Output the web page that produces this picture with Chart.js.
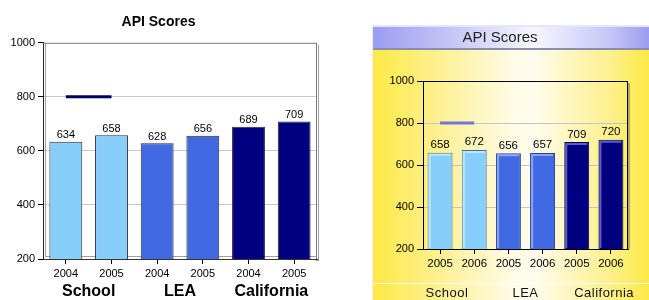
<!DOCTYPE html>
<html><head><meta charset="utf-8">
<script src="https://cdn.jsdelivr.net/npm/chart.js@4.4.0/dist/chart.umd.min.js"></script>
<style>
html,body{margin:0;padding:0;background:#fff;overflow:hidden;width:649px;height:300px}
#c1{position:absolute;left:0;top:0}
#panel{position:absolute;left:372px;top:25px;width:277px;height:275px;
 background:linear-gradient(to right,#fde945 0%,#fdf08c 22%,#fffbe4 50%,#fffcee 58%,#fdf08c 86%,#fde945 100%);
 border-left:1px solid #ececfa;box-sizing:border-box}
#tbar{position:absolute;left:0;top:0;width:100%;height:25px;box-sizing:border-box;
 border-top:2px solid #e6e6fa;border-bottom:2px solid #8c8cae;
 background:linear-gradient(to right,#9c9cf0 0%,#c8c8f8 30%,#f6f6ff 58%,#c8c8f8 85%,#9c9cf0 100%)}
#sep{position:absolute;left:0;top:258px;width:100%;height:1px;background:rgba(255,255,255,0.85)}
#c2{position:absolute;left:372px;top:25px}
</style></head>
<body>
<canvas id="c1" width="330" height="300"></canvas>
<div id="panel"><div id="tbar"></div><div id="sep"></div></div>
<canvas id="c2" width="277" height="275"></canvas>
<script>
// ---------- data ----------
const groups = ['School', 'LEA', 'California'];
const leftYears = ['2004', '2005', '2004', '2005', '2004', '2005'];
const leftScores = [634, 658, 628, 656, 689, 709];
const leftTarget = [800, 800, null, null, null, null];
const rightYears = ['2005', '2006', '2005', '2006', '2005', '2006'];
const rightScores = [658, 672, 656, 657, 709, 720];
const rightTarget = [800, 800, null, null, null, null];
const yTicks = [200, 400, 600, 800, 1000];

// ---------- styles ----------
const groupFill = ['#87cefa', '#4169e1', '#000080'];
const groupEdge = ['#3f6f8f', '#27408f', '#000040'];
const groupHi = ['#bfe6ff', '#8aa4f2', '#5c5cc8'];
const F = 'Liberation Sans, Arial, sans-serif';

const valueLabels = {
  id: 'valueLabels',
  afterDatasetsDraw(chart, args, opts) {
    const ctx = chart.ctx;
    const ds = chart.data.datasets.findIndex(d => d.type === 'bar');
    const meta = chart.getDatasetMeta(ds);
    ctx.save();
    ctx.font = opts.font;
    ctx.fillStyle = '#000';
    ctx.textAlign = 'center';
    ctx.textBaseline = 'bottom';
    meta.data.forEach((el, i) => {
      ctx.fillText(String(chart.data.datasets[ds].data[i]), el.x, el.y - opts.gap);
    });
    ctx.restore();
  }
};

const groupLabels = {
  id: 'groupLabels',
  afterDraw(chart, args, opts) {
    const ctx = chart.ctx, xs = chart.scales.x;
    const mid = (chart.chartArea.left + chart.chartArea.right) / 2;
    ctx.save();
    ctx.font = opts.font;
    ctx.fillStyle = opts.color;
    ctx.textAlign = 'center';
    ctx.textBaseline = 'middle';
    if (opts.spacing) ctx.letterSpacing = opts.spacing;
    groups.forEach((g, i) => {
      const c = (xs.getPixelForValue(2 * i) + xs.getPixelForValue(2 * i + 1)) / 2;
      ctx.fillText(g, mid + (c - mid) * opts.spread, opts.y);
    });
    ctx.restore();
  }
};

const frameLeft = {
  id: 'frameLeft',
  beforeDatasetsDraw(chart) {
    const {ctx, chartArea: a} = chart;
    ctx.save();
    ctx.lineWidth = 1;
    ctx.strokeStyle = '#7a7a7a';
    ctx.beginPath();
    ctx.moveTo(a.left, a.top + 0.5); ctx.lineTo(a.right, a.top + 0.5);
    ctx.moveTo(a.right - 0.5, a.top); ctx.lineTo(a.right - 0.5, a.bottom);
    ctx.stroke();
    ctx.strokeStyle = '#a0a0a0';
    ctx.beginPath();
    ctx.moveTo(a.left + 2.5, a.top); ctx.lineTo(a.left + 2.5, a.bottom - 2);
    ctx.moveTo(a.left + 2, a.bottom - 2.5); ctx.lineTo(a.right, a.bottom - 2.5);
    ctx.moveTo(a.right + 1.5, a.top + 2); ctx.lineTo(a.right + 1.5, a.bottom + 1);
    ctx.moveTo(a.right - 1, a.bottom + 1.5); ctx.lineTo(a.right + 2, a.bottom + 1.5);
    ctx.stroke();
    ctx.restore();
  }
};

const frameRight = {
  id: 'frameRight',
  beforeDatasetsDraw(chart) {
    const {ctx, chartArea: a} = chart;
    ctx.save();
    ctx.lineWidth = 1;
    ctx.strokeStyle = '#000';
    ctx.beginPath();
    ctx.moveTo(a.left, a.top + 0.5); ctx.lineTo(a.right, a.top + 0.5);
    ctx.moveTo(a.right - 0.5, a.top); ctx.lineTo(a.right - 0.5, a.bottom);
    ctx.stroke();
    ctx.strokeStyle = 'rgba(90,90,60,0.45)';
    ctx.lineWidth = 2;
    ctx.beginPath();
    ctx.moveTo(a.right + 1, a.top + 2); ctx.lineTo(a.right + 1, a.bottom);
    ctx.stroke();
    ctx.restore();
  },
  afterDatasetsDraw(chart) {
    const ctx = chart.ctx, a = chart.chartArea;
    const ds = chart.data.datasets.findIndex(d => d.type === 'bar');
    const meta = chart.getDatasetMeta(ds);
    ctx.save();
    ctx.lineWidth = 2;
    meta.data.forEach((el, i) => {
      const g = Math.floor(i / 2);
      const l = el.x - el.width / 2, r = el.x + el.width / 2;
      const b = Math.min(el.base, a.bottom);
      ctx.strokeStyle = groupHi[g];
      ctx.beginPath();
      ctx.moveTo(l + 2, b - 1); ctx.lineTo(l + 2, el.y + 2); ctx.lineTo(r - 2, el.y + 2);
      ctx.stroke();
    });
    ctx.restore();
  }
};

function yGrid(color) {
  return c => (c.tick && (c.tick.value === 1000 || c.tick.value === 200)) ? 'rgba(0,0,0,0)' : color;
}

// ---------- left chart ----------
new Chart(document.getElementById('c1'), {
  type: 'bar',
  data: {
    labels: leftYears,
    datasets: [
      {type: 'line', data: leftTarget, borderColor: '#000060', borderWidth: 3, pointRadius: 0, order: 0},
      {type: 'bar', data: leftScores,
       backgroundColor: leftScores.map((_, i) => groupFill[Math.floor(i / 2)]),
       borderColor: '#2a2a2a', borderWidth: 1, borderSkipped: false,
       barPercentage: 0.72, categoryPercentage: 1, order: 1}
    ]
  },
  options: {
    responsive: false, animation: false, devicePixelRatio: 1,
    layout: {padding: {left: 0, right: 13, top: 0, bottom: 0}},
    plugins: {
      legend: {display: false}, tooltip: {enabled: false},
      title: {display: true, text: 'API Scores', color: '#000',
              font: {family: F, size: 14, weight: 'bold'}, padding: {top: 14, bottom: 12}},
      valueLabels: {font: '11px ' + F, gap: 1},
      groupLabels: {font: 'bold 16px ' + F, color: '#000', y: 292, spread: 1}
    },
    scales: {
      x: {
        ticks: {color: '#000', font: {family: F, size: 11}, padding: 3, maxRotation: 0, autoSkip: false},
        grid: {offset: false, drawOnChartArea: false, tickLength: 5, color: '#000'},
        border: {color: '#333'},
        afterFit(s) { s.height = 41; }
      },
      y: {
        min: 200, max: 1000,
        ticks: {stepSize: 200, color: '#000', font: {family: F, size: 11}, padding: 3,
                callback: v => yTicks.includes(v) ? String(v) : ''},
        grid: {color: yGrid('#c8c8c8'), tickColor: '#000', tickLength: 5},
        border: {color: '#222'},
        afterFit(s) { s.width = 43; }
      }
    }
  },
  plugins: [frameLeft, valueLabels, groupLabels]
});

// ---------- right chart ----------
new Chart(document.getElementById('c2'), {
  type: 'bar',
  data: {
    labels: rightYears,
    datasets: [
      {type: 'line', data: rightTarget, borderColor: '#7474dc', borderWidth: 3, pointRadius: 0, order: 0},
      {type: 'bar', data: rightScores,
       backgroundColor: rightScores.map((_, i) => groupFill[Math.floor(i / 2)]),
       borderColor: rightScores.map((_, i) => groupEdge[Math.floor(i / 2)]),
       borderWidth: 1, borderSkipped: false,
       barPercentage: 0.73, categoryPercentage: 1, order: 1}
    ]
  },
  options: {
    responsive: false, animation: false, devicePixelRatio: 1,
    layout: {padding: {left: 0, right: 21, top: 0, bottom: 0}},
    plugins: {
      legend: {display: false}, tooltip: {enabled: false},
      title: {display: true, text: 'API Scores', color: '#222',
              font: {family: F, size: 15, weight: 'normal'}, padding: {top: 4, bottom: 34}},
      valueLabels: {font: '11.5px ' + F, gap: 2},
      groupLabels: {font: '13px ' + F, color: '#111', y: 268, spread: 1.15, spacing: '0.5px'}
    },
    scales: {
      x: {
        ticks: {color: '#000', font: {family: F, size: 11.5}, padding: 3, maxRotation: 0, autoSkip: false},
        grid: {offset: false, drawOnChartArea: false, tickLength: 5, color: '#000'},
        border: {color: '#000'},
        afterFit(s) { s.height = 51; }
      },
      y: {
        min: 200, max: 1000,
        ticks: {stepSize: 200, color: '#000', font: {family: F, size: 11}, padding: 3,
                callback: v => yTicks.includes(v) ? String(v) : ''},
        grid: {color: yGrid('#c4c4d0'), tickColor: '#000', tickLength: 6},
        border: {color: '#000'},
        afterFit(s) { s.width = 51; }
      }
    }
  },
  plugins: [frameRight, valueLabels, groupLabels]
});
</script>
</body></html>
